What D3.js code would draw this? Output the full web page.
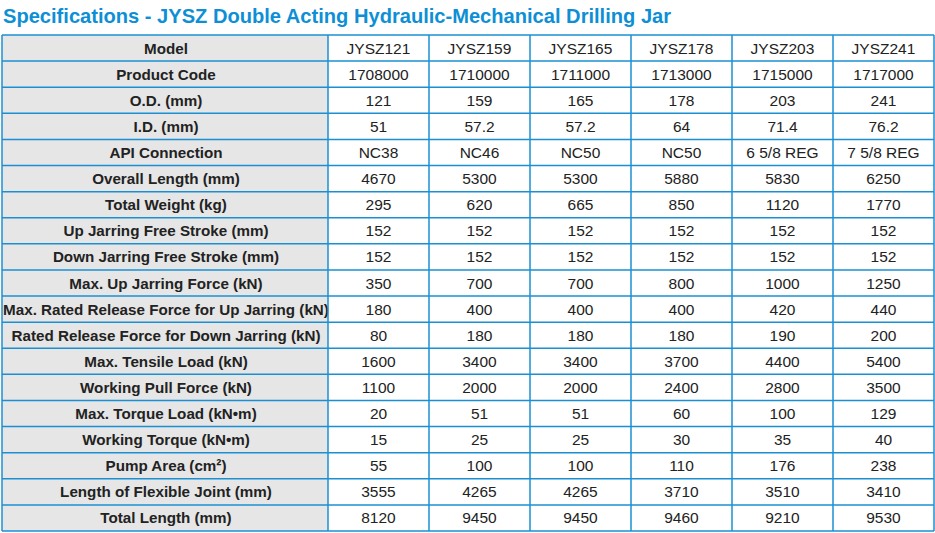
<!DOCTYPE html><html><head><meta charset="utf-8"><script src="https://cdn.jsdelivr.net/npm/d3@7"></script>
<style>body{margin:0;background:#fff}</style></head><body><svg id="c" width="935" height="533"></svg>
<script>
const models=["JYSZ121","JYSZ159","JYSZ165","JYSZ178","JYSZ203","JYSZ241"];
const rowLabels=["Model","Product Code","O.D. (mm)","I.D. (mm)","API Connection","Overall Length (mm)","Total Weight (kg)","Up Jarring Free Stroke (mm)","Down Jarring Free Stroke (mm)","Max. Up Jarring Force (kN)","Max. Rated Release Force for Up Jarring (kN)","Rated Release Force for Down Jarring (kN)","Max. Tensile Load (kN)","Working Pull Force (kN)","Max. Torque Load (kN•m)","Working Torque (kN•m)","Pump Area (cm²)","Length of Flexible Joint (mm)","Total Length (mm)"];
const productCode=["1708000","1710000","1711000","1713000","1715000","1717000"];
const od=["121","159","165","178","203","241"];
const id=["51","57.2","57.2","64","71.4","76.2"];
const api=["NC38","NC46","NC50","NC50","6 5/8 REG","7 5/8 REG"];
const overallLength=["4670","5300","5300","5880","5830","6250"];
const weight=["295","620","665","850","1120","1770"];
const upStroke=["152","152","152","152","152","152"];
const downStroke=["152","152","152","152","152","152"];
const upForce=["350","700","700","800","1000","1250"];
const upRelease=["180","400","400","400","420","440"];
const downRelease=["80","180","180","180","190","200"];
const tensile=["1600","3400","3400","3700","4400","5400"];
const pull=["1100","2000","2000","2400","2800","3500"];
const torqueLoad=["20","51","51","60","100","129"];
const torque=["15","25","25","30","35","40"];
const pump=["55","100","100","110","176","238"];
const flex=["3555","4265","4265","3710","3510","3410"];
const totalLength=["8120","9450","9450","9460","9210","9530"];
const rows=[models,productCode,od,id,api,overallLength,weight,upStroke,downStroke,upForce,upRelease,downRelease,tensile,pull,torqueLoad,torque,pump,flex,totalLength];
const svg=d3.select("#c");
svg.append("text").attr("x",3).attr("y",23).attr("fill","#0e8fd5").attr("font-family","Liberation Sans, Arial").attr("font-weight","bold").attr("font-size","20.1px").text("Specifications - JYSZ Double Acting Hydraulic-Mechanical Drilling Jar");
const y=d3.scaleBand().domain(d3.range(rows.length)).range([35,531]);
const x=d3.scaleBand().domain(d3.range(6)).range([328,934]);
const L=2,blue="#1a90d2",font="Liberation Sans, Arial";
rows.forEach((r,i)=>{
  const g=svg.append("g");
  g.append("rect").attr("x",L).attr("y",y(i)).attr("width",328-L).attr("height",y.bandwidth()).attr("fill","#e6e6e6");
  g.append("text").attr("x",(L+328)/2+1).attr("y",y(i)+y.bandwidth()/2+5.5).attr("text-anchor","middle").attr("font-family",font).attr("font-weight","bold").attr("font-size","15.2px").attr("fill","#222").text(rowLabels[i]);
  r.forEach((v,j)=>{
    g.append("text").attr("x",x(j)+x.bandwidth()/2).attr("y",y(i)+y.bandwidth()/2+5.5).attr("text-anchor","middle").attr("font-family",font).attr("font-size","15.5px").attr("fill","#222").text(v);
  });
});
const lines=svg.append("g").attr("stroke",blue).attr("stroke-width",1.5).attr("fill","none");
d3.range(rows.length+1).forEach(i=>{const yy=i<rows.length?y(i):531;lines.append("line").attr("x1",L).attr("x2",934).attr("y1",yy).attr("y2",yy);});
[L,328,...d3.range(1,6).map(j=>x(j)),934].forEach(xx=>lines.append("line").attr("x1",xx).attr("x2",xx).attr("y1",35).attr("y2",531));
</script></body></html>
